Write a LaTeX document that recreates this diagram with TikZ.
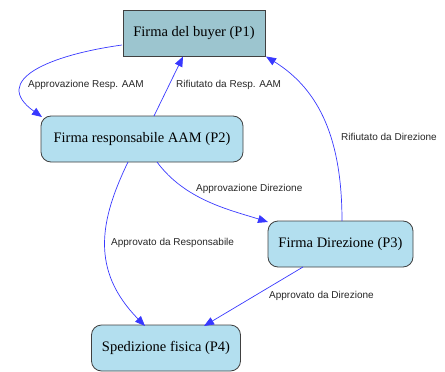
\documentclass[tikz,border=0pt]{standalone}
\usepackage{fontspec}
\setmainfont{Liberation Serif}
\setsansfont{Liberation Sans}
\usetikzlibrary{arrows.meta}
\definecolor{pone}{HTML}{9CC5CF}
\definecolor{pbox}{HTML}{B3DFEF}
\definecolor{edgeblue}{HTML}{3838FF}
\begin{document}
\begin{tikzpicture}[x=1pt,y=-1pt,
  stepbox/.style={draw=black!75, line width=0.8pt, fill=pbox, rounded corners=10pt,
    minimum height=46pt, inner sep=0pt, font=\fontsize{14.5}{16}\selectfont},
  topbox/.style={stepbox, rounded corners=0pt, fill=pone},
  conn/.style={draw=edgeblue, line width=0.7pt, -{Triangle[length=10pt,width=8pt]}},
  elab/.style={font=\sffamily\fontsize{10}{11}\selectfont, text=black!85, inner sep=1pt}]
\useasboundingbox (0,0) rectangle (445,372);
\node[topbox, minimum width=142pt] (p1) at (194,33) {Firma del buyer (P1)};
\node[stepbox, minimum width=202pt] (p2) at (142,139) {Firma responsabile AAM (P2)};
\node[stepbox, minimum width=145pt] (p3) at (340.5,244) {Firma Direzione (P3)};
\node[stepbox, minimum width=149pt] (p4) at (166,348) {Spedizione fisica (P4)};

\coordinate (a1) at (122,45);
\coordinate (b1) at (42,117);
\draw[conn] (a1) .. controls (50,55) and (-10,80) .. (b1);
\draw[conn] (154,116) coordinate (a2) -- (183,56.5) coordinate (b2);
\draw[conn] (342,221) coordinate (a3) .. controls (342,140) and (320,90) .. (266,56.5) coordinate (b3);
\draw[conn] (157,162) coordinate (a4) .. controls (185,200) and (230,210) .. (268,222) coordinate (b4);
\draw[conn] (128,162) coordinate (a5) .. controls (100,220) and (90,270) .. (145,326) coordinate (b5);
\draw[conn] (303,267) coordinate (a6) -- (204,326) coordinate (b6);

\node[elab, anchor=west] (l1) at (27,85) {Approvazione Resp. AAM};
\node[elab, anchor=west] (l2) at (175,85) {Rifiutato da Resp. AAM};
\node[elab, anchor=west] (l3) at (340,137) {Rifiutato da Direzione};
\node[elab, anchor=west] (l4) at (195,189) {Approvazione Direzione};
\node[elab, anchor=west] (l5) at (110,243) {Approvato da Responsabile};
\node[elab, anchor=west] (l6) at (268,296) {Approvato da Direzione};
\end{tikzpicture}
\end{document}
